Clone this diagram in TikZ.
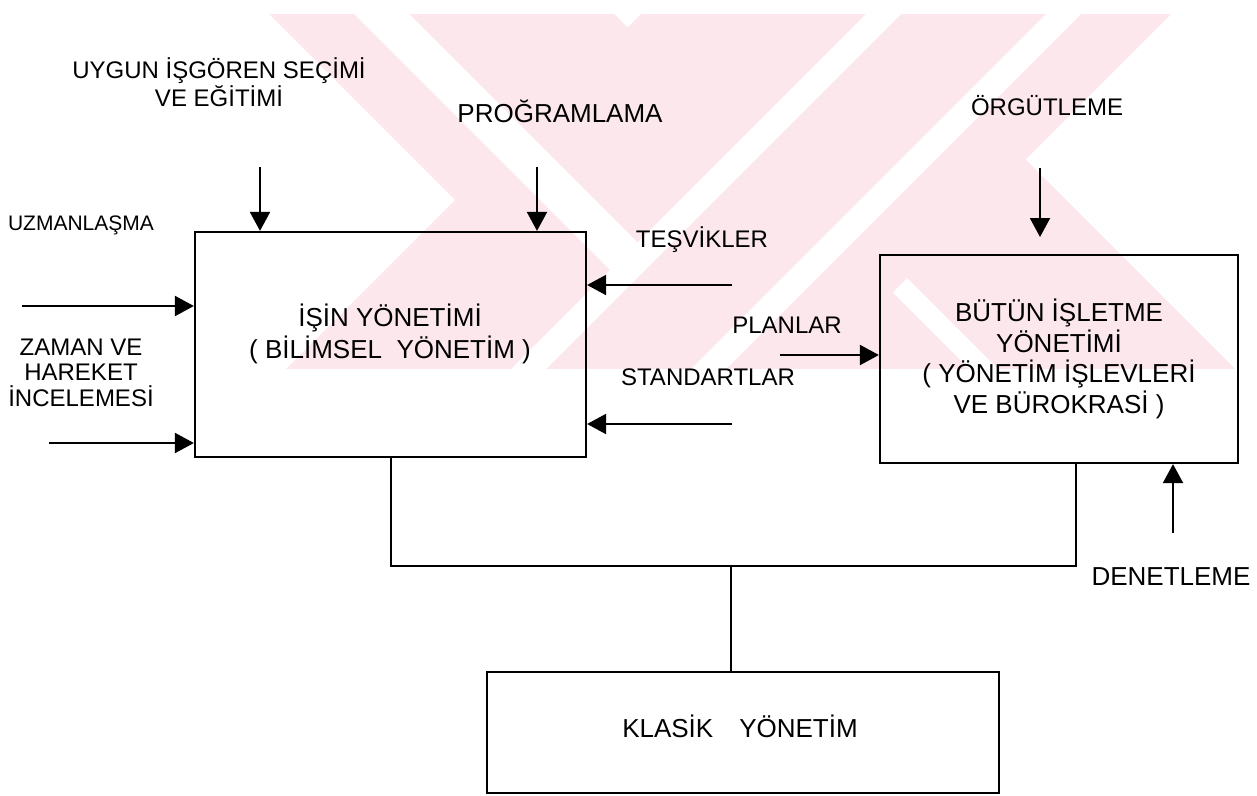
\documentclass[tikz,border=0pt]{standalone}
\usepackage{fontspec}
\setmainfont{Liberation Sans}
\usetikzlibrary{arrows.meta,positioning}
\definecolor{wmpink}{RGB}{252,231,237}
\tikzset{
	box/.style={draw, line width=2.2pt, inner sep=0pt},
	lbl/.style={font=\fontsize{24}{28}\selectfont, align=center, inner sep=0pt},
	big/.style={font=\fontsize{26}{30.5}\selectfont},
}

\begin{document}
\begin{tikzpicture}[x=1pt, y=-1pt, >={Triangle[length=19pt,width=20pt]}, line width=2pt]
	\useasboundingbox (0,0) rectangle (1257,795);

	\begin{scope}
		\clip (0,14) rectangle (1257,368);
		\fill[wmpink] (267,12) -- (612,12) -- (970,370) -- (625,370) -- cycle;
		\fill[wmpink] (643,12) -- (1173,12) -- (815,370) -- (285,370) -- cycle;
		\fill[wmpink] (641,12) -- (878,12) -- (1236,370) -- (999,370) -- cycle;
		\fill[white] (352,12) -- (407,12) -- (655,260) -- (627.5,287.5) -- cycle;
		\fill[white] (868,12) -- (903,12) -- (545,370) -- (510,370) -- cycle;
		\fill[white] (1048,12) -- (1083,12) -- (725,370) -- (690,370) -- cycle;
	\end{scope}

	\node[box, minimum width=391pt, minimum height=225pt] (isin) at (390.5,344.5) {};
	\node[lbl, font=\fontsize{26}{32}\selectfont] (isinlbl) at (390,334) {İŞİN YÖNETİMİ\\( BİLİMSEL\ \ YÖNETİM )};
	\node[box, big, align=center, minimum width=358pt, minimum height=208pt] (butun) at (1059,359) {BÜTÜN İŞLETME\\YÖNETİMİ\\( YÖNETİM İŞLEVLERİ\\VE BÜROKRASİ )};
	\node[box, minimum width=512pt, minimum height=121pt] (klasik) at (743,732.5) {};
	\node[lbl, big] (klasiklbl) at (740,726) {KLASİK\hspace{1em}YÖNETİM};

	\node[lbl] (uygun) at (219,82) {UYGUN İŞGÖREN SEÇİMİ\\VE EĞİTİMİ};
	\node[lbl, big] (prog) at (560,111) {PROĞRAMLAMA};
	\node[lbl] (orgut) at (1047,106) {ÖRGÜTLEME};
	\node[lbl, font=\fontsize{21}{25}\selectfont] (uzman) at (81,225) {UZMANLAŞMA};
	\node[lbl, font=\fontsize{24}{25.5}\selectfont] (zaman) at (81,372.5) {ZAMAN VE\\HAREKET\\İNCELEMESİ};
	\node[lbl] (tesvik) at (702,240) {TEŞVİKLER};
	\node[lbl] (planlar) at (787,325) {PLANLAR};
	\node[lbl] (standart) at (708,377) {STANDARTLAR};
	\node[lbl, big] (denet) at (1171,577) {DENETLEME};

	\coordinate (uygunin) at (260,167);
	\coordinate (progin) at (537,167);
	\coordinate (orgutin) at (1040,168);
	\coordinate (orgutend) at (1040,237);
	\coordinate (uzmanin) at (22,306);
	\coordinate (zamanin) at (49,443);
	\coordinate (tesvikin) at (732,285);
	\coordinate (standin) at (732,424);
	\coordinate (planin) at (780,355);
	\coordinate (denetin) at (1173,533);
	\coordinate (join) at (731,566);
	\coordinate (joinr) at (1076,566);

	\draw[->] (uygunin) -- (uygunin |- isin.north);
	\draw[->] (progin) -- (progin |- isin.north);
	\draw[->] (orgutin) -- (orgutend);
	\draw[->] (uzmanin) -- (uzmanin -| isin.west);
	\draw[->] (zamanin) -- (zamanin -| isin.west);
	\draw[->] (tesvikin) -- (tesvikin -| isin.east);
	\draw[->] (standin) -- (standin -| isin.east);
	\draw[->] (planin) -- (planin -| butun.west);
	\draw[->] (denetin) -- (denetin |- butun.south);
	\draw (isin.south) |- (joinr) -- (joinr |- butun.south);
	\draw (join) -- (join |- klasik.north);
\end{tikzpicture}
\end{document}
